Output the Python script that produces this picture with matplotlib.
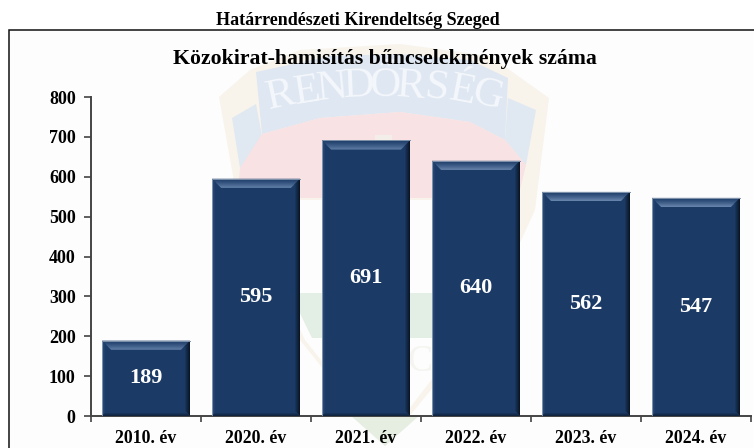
import numpy as np
import matplotlib
matplotlib.use("Agg")
import matplotlib.pyplot as plt
from matplotlib.colors import to_rgb
from matplotlib.patches import Polygon, Rectangle

plt.rcParams['font.family'] = ['Liberation Serif', 'DejaVu Serif']

# datos
years = ["2010. év", "2020. év", "2021. év", "2022. év", "2023. év", "2024. év"]
counts = [189, 595, 691, 640, 562, 547]
y_ticks = [0, 100, 200, 300, 400, 500, 600, 700, 800]

W, H = 754, 448
NAVY = "#1b3a66"
bar_w = 0.8
BEVEL = 9

fig = plt.figure(figsize=(W / 100, H / 100), dpi=100)
fig.patch.set_facecolor("white")


def px(x, y):
    # pixel de la imagen -> coordenadas de figura
    return x / W, 1 - y / H


def fig_poly(points, color, z=1):
    fig.add_artist(Polygon([px(*p) for p in points], closed=True, transform=fig.transFigure,
                           facecolor=color, edgecolor="none", zorder=z))


def mix(c1, c2, t):
    return tuple((1 - t) * a + t * b for a, b in zip(to_rgb(c1), to_rgb(c2)))


# marco del gráfico (derecha y abajo quedan fuera de la imagen)
x0, y0 = px(9, 30)
x1, y1 = px(760, 455)
fig.add_artist(Rectangle((x0, y1), x1 - x0, y0 - y1, transform=fig.transFigure,
                         facecolor="#fdfdfd", edgecolor="#111111", linewidth=1.1, zorder=0))

# escudo de fondo (marca de agua)
fig_poly([(219, 97), (250, 70), (300, 50), (400, 44), (490, 56), (549, 98), (535, 210),
          (480, 330), (385, 446), (300, 340), (240, 215)], "#f8f4ec", 1)
fig_poly([(238, 200), (520, 200), (470, 330), (385, 440), (305, 340)], "#fdfdfd", 2)
fig_poly([(232, 118), (256, 104), (262, 136), (240, 168)], "#e0e8f2", 3)
fig_poly([(256, 72), (330, 56), (400, 54), (470, 60), (508, 78), (505, 140), (470, 122),
          (400, 112), (320, 118), (262, 134)], "#dfe7f2", 3)
fig_poly([(508, 98), (536, 110), (526, 165), (505, 140)], "#e0e8f2", 3)
fig_poly([(240, 168), (262, 134), (320, 118), (400, 112), (470, 122), (505, 140), (526, 165),
          (518, 198), (238, 198)], "#f8e2e3", 3)
fig_poly([(375, 135), (392, 135), (392, 160), (375, 160)], "#f3eeea", 4)
fig_poly([(290, 293), (482, 293), (462, 338), (312, 338)], "#e3eee4", 3)
fig_poly([(350, 415), (420, 415), (385, 446)], "#e6eee2", 3)

# letras en arco sobre la cinta
letters = "RENDŐRSÉG"
for i, ch in enumerate(letters):
    t = i / (len(letters) - 1)
    lx = 281 + t * 207
    ly = 86 + 40 * (t - 0.5) ** 2
    fig.text(*px(lx, ly), ch, color="#f4f7fb", fontsize=31, ha="center", va="center",
             rotation=12 - 26 * t, zorder=4)
fig.text(*px(365, 362), "L", color="#f4f4f0", fontsize=27, ha="center", va="center", zorder=4)
fig.text(*px(420, 362), "C", color="#f4f4f0", fontsize=27, ha="center", va="center", zorder=4)

# títulos
fig.text(*px(358, 25), "Határrendészeti Kirendeltség Szeged", fontsize=13, fontweight="bold",
         ha="center", va="baseline", color="black", zorder=6)
fig.text(*px(385, 64), "Közokirat-hamisítás bűncselekmények száma", fontsize=15.7, fontweight="bold",
         ha="center", va="baseline", color="black", zorder=6)

# ejes en píxeles de la imagen
ax = fig.add_axes([91 / W, 1 - 416 / H, (751 - 91) / W, (416 - 97) / H], zorder=5)
ax.patch.set_alpha(0)
ax.set_xlim(0, len(years))
ax.set_ylim(0, 800)

xs = np.arange(len(years)) + 0.5
ux, uy = 1 / 110, 800 / 319  # un píxel en datos
for x, v in zip(xs, counts):
    left, right = x - bar_w / 2, x + bar_w / 2
    ax.bar(x, v, width=bar_w, color=NAVY, edgecolor="none", zorder=2)
    # bisel: franjas de color, de fuera hacia dentro
    for k in range(BEVEL):
        top = v - k * uy
        ax.add_patch(Polygon([(left + k * ux, top), (right - k * ux, top),
                              (right - (k + 1) * ux, top - uy), (left + (k + 1) * ux, top - uy)],
                             facecolor=mix("#23426f", "#6d8bb2", (k / (BEVEL - 1)) ** 1.3),
                             edgecolor="none", zorder=3))
    for k in range(6):
        ax.add_patch(Polygon([(right - k * ux, v - k * uy), (right - k * ux, k * uy),
                              (right - (k + 1) * ux, (k + 1) * uy),
                              (right - (k + 1) * ux, v - (k + 1) * uy)],
                             facecolor=mix("#0a1626", NAVY, k / 5), edgecolor="none", zorder=3))
    for k in range(4):
        ax.add_patch(Polygon([(left + k * ux, v - k * uy), (left + k * ux, k * uy),
                              (left + (k + 1) * ux, (k + 1) * uy),
                              (left + (k + 1) * ux, v - (k + 1) * uy)],
                             facecolor=mix("#2c4d7a", NAVY, k / 3), edgecolor="none", zorder=3))
    for k in range(4):
        ax.add_patch(Polygon([(left + k * ux, k * uy), (right - k * ux, k * uy),
                              (right - (k + 1) * ux, (k + 1) * uy), (left + (k + 1) * ux, (k + 1) * uy)],
                             facecolor=mix("#10233f", NAVY, k / 3), edgecolor="none", zorder=3))
    ax.plot([left, left, right], [0, v, v], color="#7f93ab", linewidth=0.7, zorder=3,
            solid_joinstyle="miter")
    ax.text(x, v / 2, str(v), color="white", fontsize=16, fontweight="bold",
            ha="center", va="center", zorder=4)

ax.set_xticks(np.arange(len(years) + 1))
ax.set_xticklabels([])
ax.set_xticks(xs, minor=True)
ax.set_xticklabels(years, minor=True, fontsize=12.8, fontweight="bold")
ax.tick_params(axis="x", which="minor", length=0, pad=10)
ax.tick_params(axis="x", which="major", length=4, width=1.2, color="#444444", direction="out")
ax.set_yticks(y_ticks)
ax.set_yticklabels(y_ticks, fontsize=13, fontweight="bold")
ax.tick_params(axis="y", length=5, width=1.2, color="#444444", pad=6)

for s in ["top", "right"]:
    ax.spines[s].set_visible(False)
for s in ["left", "bottom"]:
    ax.spines[s].set_color("#444444")
    ax.spines[s].set_linewidth(1.4)

fig.savefig("out.png", dpi=100)
